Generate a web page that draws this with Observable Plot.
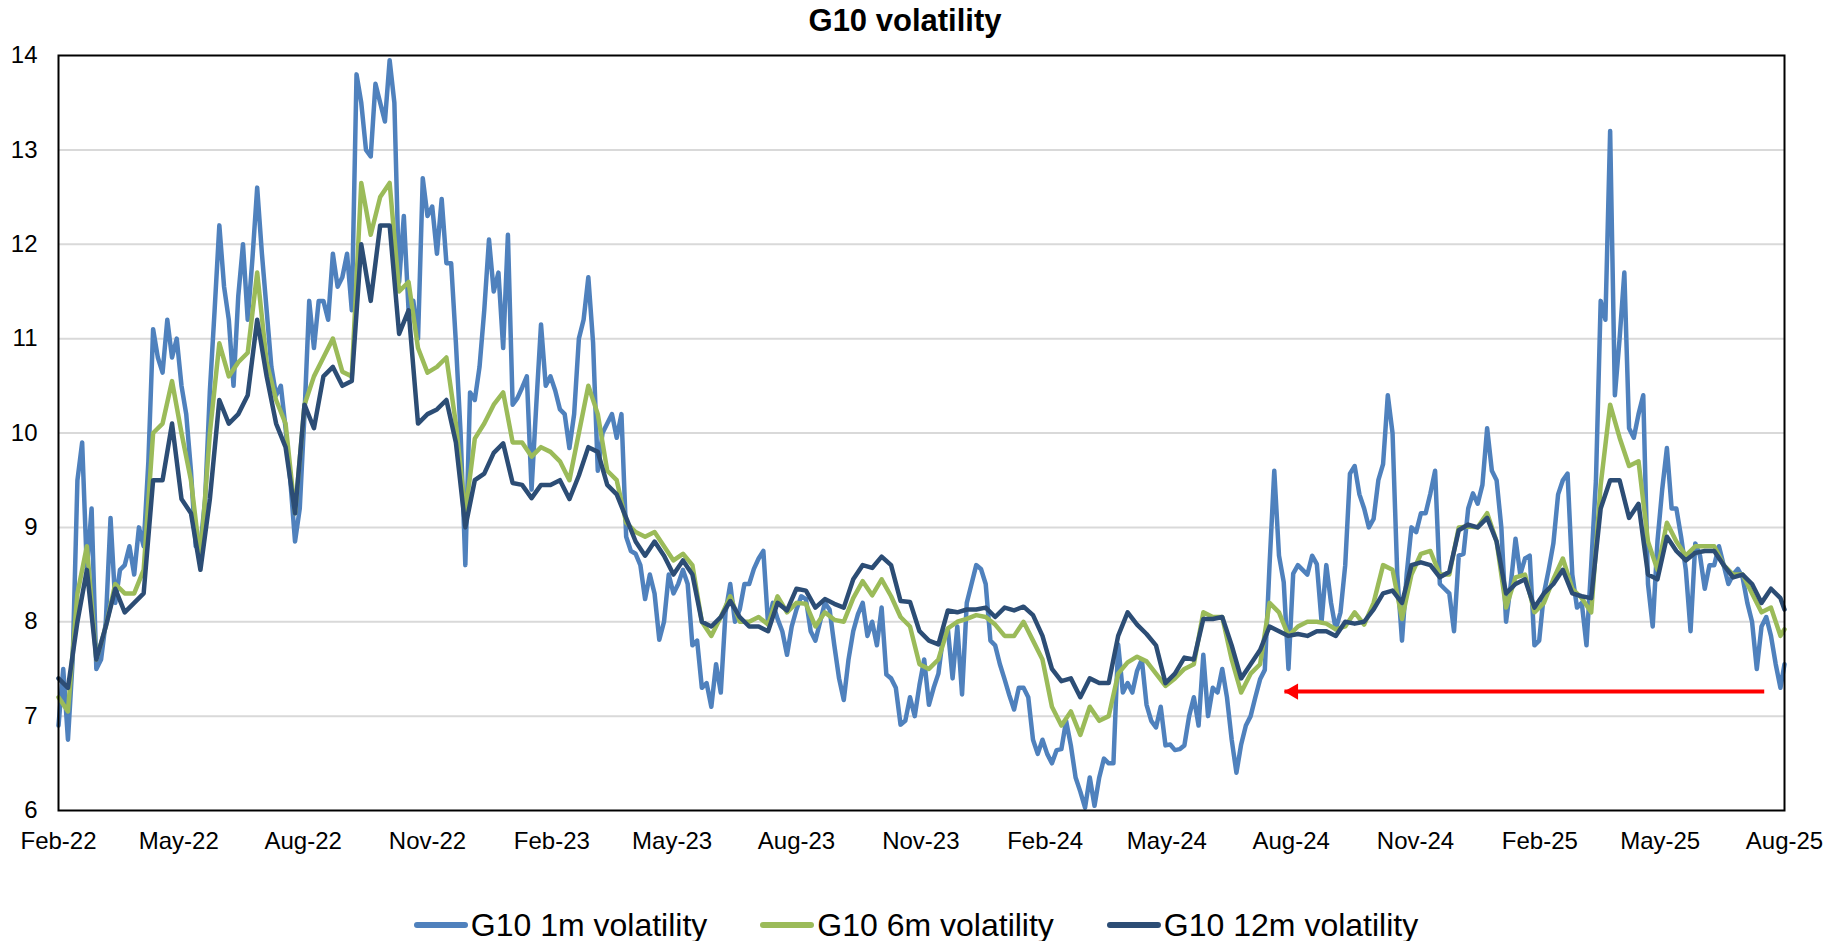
<!DOCTYPE html>
<html>
<head>
<meta charset="utf-8">
<script src="https://cdn.jsdelivr.net/npm/d3@7"></script>
<script src="https://cdn.jsdelivr.net/npm/@observablehq/plot@0.6"></script>
<style>
  html, body { margin: 0; padding: 0; background: #fff; }
  body { width: 1831px; height: 941px; font-family: "Liberation Sans", Arial, sans-serif; color: #000; }
  #title { height: 40px; line-height: 42px; font-size: 31px; font-weight: bold; text-align: center; width: 1810px; }
  #chart { height: 820px; }
  #legend { height: 81px; display: flex; justify-content: center; align-items: flex-start; box-sizing: border-box; }
  .item { display: flex; align-items: center; margin: 0 26px; height: 36px; margin-top: 47px; font-size: 32px; }
  .item svg { margin-right: 2px; }
</style>
</head>
<body>
<div id="title">G10 volatility</div>
<div id="chart"></div>
<div id="legend"></div>
<script>
// ---- data ----
const seriesNames = ["G10 1m volatility", "G10 6m volatility", "G10 12m volatility"];
const seriesColors = ["#4F81BD", "#9BBB59", "#2C4D75"];
const firstDate = "2022-02-18";
const lastDate = "2025-08-18";
const halfWeekCount = 365; // 1m: twice-weekly observations from firstDate, then lastDate
const weekCount = 183;     // 6m / 12m: weekly observations from firstDate, then lastDate

const vol1m = [
6.9,7.5,6.75,7.6,9.5,9.9,8.55,9.2,7.5,7.6,
8.0,9.1,8.2,8.55,8.6,8.8,8.5,9.0,8.8,9.7,
11.1,10.8,10.64,11.2,10.8,11.0,10.5,10.2,9.6,8.8,
8.8,9.3,10.45,11.3,12.2,11.55,11.2,10.5,11.45,12.0,
11.2,11.85,12.6,11.9,11.3,10.7,10.4,10.5,10.05,9.5,
8.85,9.2,10.2,11.4,10.9,11.4,11.4,11.2,11.9,11.55,
11.65,11.9,11.3,13.8,13.5,13.0,12.93,13.7,13.5,13.3,
13.95,13.5,11.6,12.3,11.3,11.4,11.0,12.7,12.3,12.4,
11.9,12.48,11.8,11.8,10.96,10.0,8.6,10.43,10.35,10.7,
11.3,12.05,11.5,11.7,10.9,12.1,10.3,10.37,10.48,10.6,
9.4,10.3,11.15,10.5,10.6,10.45,10.25,10.2,9.84,10.2,
11.0,11.2,11.65,10.96,9.6,10.0,10.1,10.2,9.95,10.2,
8.9,8.75,8.72,8.6,8.24,8.5,8.3,7.81,8.0,8.5,
8.3,8.4,8.55,8.4,7.75,7.8,7.3,7.35,7.1,7.55,
7.25,8.1,8.4,8.0,8.13,8.4,8.4,8.56,8.67,8.75,
7.97,8.2,8.03,7.9,7.65,7.95,8.13,8.27,8.24,7.9,
7.8,8.0,8.2,8.13,7.75,7.4,7.17,7.6,7.9,8.08,
8.2,7.85,8.0,7.75,8.15,7.44,7.4,7.3,6.91,6.95,
7.2,7.0,7.33,7.6,7.12,7.3,7.45,7.85,7.92,7.4,
7.95,7.23,8.2,8.4,8.6,8.56,8.4,7.8,7.75,7.55,
7.39,7.22,7.07,7.3,7.3,7.2,6.75,6.6,6.75,6.6,
6.5,6.64,6.65,6.95,6.69,6.35,6.2,6.03,6.35,6.05,
6.35,6.55,6.5,6.5,7.76,7.25,7.35,7.25,7.48,7.6,
7.12,6.95,6.88,7.1,6.69,6.7,6.64,6.65,6.69,7.0,
7.2,6.9,7.65,7.0,7.3,7.25,7.5,7.2,6.75,6.4,
6.7,6.9,7.0,7.2,7.39,7.49,8.6,9.6,8.7,8.42,
7.5,8.51,8.6,8.55,8.5,8.7,8.61,8.0,8.6,8.2,
7.92,8.1,8.6,9.57,9.65,9.35,9.2,9.0,9.09,9.5,
9.67,10.4,10.0,8.5,7.8,8.51,9.0,8.95,9.15,9.15,
9.36,9.6,8.4,8.35,8.3,7.9,8.7,8.72,9.2,9.36,
9.25,9.45,10.05,9.6,9.5,9.0,8.0,8.4,8.88,8.5,
8.67,8.7,7.75,7.8,8.3,8.55,8.83,9.35,9.5,9.57,
8.5,8.15,8.2,7.75,8.6,9.5,11.4,11.2,13.2,10.4,
11.0,11.7,10.05,9.95,10.2,10.4,8.4,7.95,8.85,9.4,
9.84,9.2,9.2,8.9,8.55,7.9,8.83,8.7,8.35,8.6,
8.6,8.8,8.6,8.4,8.5,8.56,8.47,8.2,8.0,7.5,
7.95,8.05,7.85,7.55,7.3,
7.55
];
const vol6m = [
7.2,7.05,8.3,8.8,7.6,7.95,8.4,8.3,8.3,8.55,
10.0,10.1,10.55,10.0,9.5,8.65,10.0,10.95,10.6,10.75,
10.85,11.7,10.75,10.35,10.1,9.15,10.3,10.6,10.8,11.0,
10.65,10.6,12.65,12.1,12.5,12.65,11.5,11.6,10.9,10.64,
10.7,10.8,10.1,9.15,9.94,10.1,10.3,10.43,9.9,9.9,
9.75,9.85,9.8,9.7,9.5,10.0,10.5,10.2,9.6,9.5,
9.05,8.95,8.9,8.95,8.8,8.65,8.72,8.6,8.0,7.85,
8.05,8.27,8.0,8.0,8.05,7.97,8.27,8.1,8.2,8.19,
7.95,8.1,8.02,8.0,8.25,8.43,8.28,8.45,8.27,8.05,
7.95,7.55,7.5,7.6,7.93,8.0,8.03,8.07,8.05,7.97,
7.85,7.85,8.0,7.8,7.6,7.1,6.9,7.05,6.8,7.1,
6.95,7.0,7.45,7.57,7.63,7.58,7.45,7.32,7.4,7.5,
7.55,8.1,8.05,8.05,7.6,7.25,7.45,7.55,8.2,8.1,
7.85,7.95,8.0,8.0,7.98,7.92,7.95,8.1,7.97,8.2,
8.6,8.55,8.03,8.5,8.72,8.75,8.5,8.5,9.0,9.01,
9.0,9.15,8.85,8.15,8.47,8.5,8.1,8.2,8.45,8.67,
8.35,8.25,8.1,9.45,10.3,9.95,9.65,9.7,8.85,8.55,
9.05,8.85,8.7,8.8,8.8,8.8,8.6,8.5,8.5,8.3,
8.1,8.15,7.85,
7.92
];
const vol12m = [
7.4,7.3,8.0,8.55,7.6,7.95,8.35,8.1,8.2,8.3,
9.5,9.5,10.1,9.3,9.15,8.55,9.3,10.35,10.1,10.2,
10.4,11.2,10.6,10.1,9.85,9.15,10.3,10.05,10.6,10.7,
10.5,10.55,12.0,11.4,12.2,12.2,11.05,11.3,10.1,10.2,
10.25,10.35,9.9,9.0,9.5,9.57,9.79,9.89,9.47,9.45,
9.31,9.45,9.45,9.5,9.3,9.55,9.85,9.8,9.45,9.35,
9.1,8.85,8.7,8.85,8.7,8.5,8.65,8.5,8.0,7.95,
8.05,8.22,8.05,7.95,7.95,7.9,8.2,8.12,8.35,8.33,
8.15,8.24,8.19,8.15,8.45,8.6,8.57,8.69,8.6,8.22,
8.21,7.9,7.8,7.76,8.12,8.1,8.13,8.13,8.15,8.05,
8.15,8.12,8.16,8.07,7.85,7.5,7.37,7.4,7.2,7.4,
7.35,7.35,7.85,8.1,7.97,7.87,7.75,7.35,7.45,7.62,
7.6,8.03,8.03,8.05,7.75,7.4,7.55,7.7,7.95,7.9,
7.85,7.87,7.85,7.9,7.9,7.85,8.0,7.98,8.0,8.13,
8.3,8.33,8.2,8.6,8.63,8.6,8.47,8.53,8.97,9.03,
9.0,9.1,8.85,8.3,8.4,8.45,8.15,8.3,8.4,8.55,
8.3,8.27,8.25,9.2,9.5,9.5,9.1,9.25,8.5,8.45,
8.9,8.75,8.65,8.73,8.75,8.75,8.6,8.47,8.5,8.4,
8.2,8.35,8.25,
8.13
];

const yTickValues = [6, 7, 8, 9, 10, 11, 12, 13, 14];
const gridValues = [7, 8, 9, 10, 11, 12, 13];
const xTickCount = 15; // Feb-22 ... Aug-25, every 3 months

// annotation arrow (red, pointing left)
const arrowFrom = {date: "2025-08-03", value: 7.26};
const arrowTo = {date: "2024-08-13", value: 7.26};

// ---- build ----
const start = new Date(firstDate + "T00:00:00Z");
const end = new Date(lastDate + "T00:00:00Z");
const dates1m = d3.range(halfWeekCount).map(j => d3.utcHour.offset(start, 84 * j));
dates1m.push(end);
const datesW = d3.range(weekCount).map(k => d3.utcDay.offset(start, 7 * k));
datesW.push(end);

const rows = [];
vol1m.forEach((v, i) => rows.push({date: dates1m[i], value: v, series: seriesNames[0]}));
vol6m.forEach((v, i) => rows.push({date: datesW[i], value: v, series: seriesNames[1]}));
vol12m.forEach((v, i) => rows.push({date: datesW[i], value: v, series: seriesNames[2]}));

const xTicks = d3.range(xTickCount).map(i => d3.utcMonth.offset(start, 3 * i));
const arrowData = [{x1: new Date(arrowFrom.date), x2: new Date(arrowTo.date), y: arrowFrom.value}];

const chart = Plot.plot({
  width: 1831,
  height: 820,
  marginTop: 15,
  marginLeft: 58,
  marginRight: 47,
  marginBottom: 50,
  style: {fontFamily: "'Liberation Sans', Arial, sans-serif", fontSize: "24px", color: "#000", background: "#fff", overflow: "visible"},
  x: {type: "utc", domain: [start, end], ticks: xTicks, tickFormat: d3.utcFormat("%b-%y"), tickSize: 0, tickPadding: 21, label: null},
  y: {domain: [6, 14], ticks: yTickValues, tickSize: 0, tickPadding: 21, label: null},
  color: {domain: seriesNames, range: seriesColors},
  marks: [
    Plot.gridY(gridValues, {stroke: "#D9D9D9", strokeWidth: 2, strokeOpacity: 1}),
    Plot.line(rows, {x: "date", y: "value", z: "series", stroke: "series", strokeWidth: 4.5, strokeLinejoin: "round", strokeLinecap: "round"}),
    Plot.link(arrowData, {x1: "x1", x2: "x2", y1: "y", y2: "y", stroke: "#FF0000", strokeWidth: 4}),
    Plot.dot(arrowData, {x: "x2", y: "y", symbol: "triangle", r: 6, rotate: -90, fill: "#FF0000", stroke: "none", dx: 9}),
    Plot.frame({stroke: "#000", strokeWidth: 2})
  ]
});
document.getElementById("chart").appendChild(chart);

// legend
const legend = document.getElementById("legend");
seriesNames.forEach((name, i) => {
  const item = document.createElement("div");
  item.className = "item";
  item.innerHTML = `<svg width="56" height="12"><line x1="4" y1="6" x2="52" y2="6" stroke="${seriesColors[i]}" stroke-width="6" stroke-linecap="round"/></svg><span>${name}</span>`;
  legend.appendChild(item);
});
</script>
</body>
</html>
